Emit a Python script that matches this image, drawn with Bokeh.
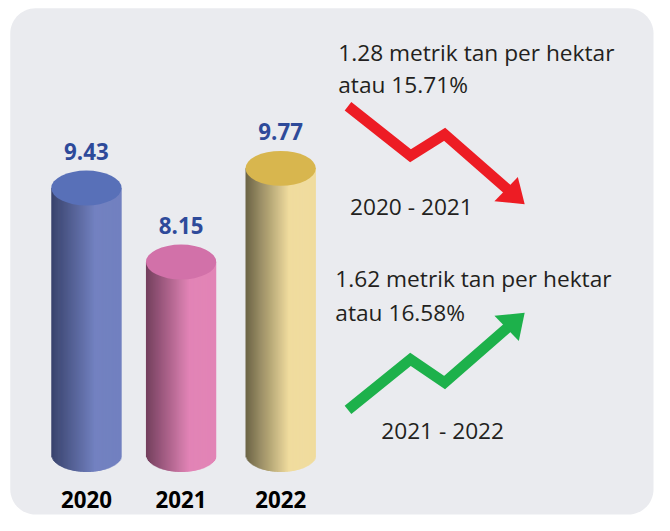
import numpy as np
from bokeh.plotting import figure
from bokeh.models import Range1d
from bokeh.core.properties import value
from bokeh.embed import file_html
from bokeh.resources import INLINE

# ---------------- data ----------------
years = ["2020", "2021", "2022"]
yields = [9.43, 8.15, 9.77]
value_labels = ["9.43", "8.15", "9.77"]

down_text = ["1.28 metrik tan  per hektar", "atau 15.71%"]
down_period = "2020 - 2021"
up_text = ["1.62 metrik tan per hektar", "atau 16.58%"]
up_period = "2021 - 2022"

# ---------------- styles / layout ----------------
W, H = 654, 515                      # figure size in screen px
REF_W, REF_H = 670, 531              # layout coordinate frame
SX = W / REF_W
SY = H / REF_H
Y_START, Y_END = 3.765, 12.674       # hidden, truncated value axis
BASE = 4.82                          # cylinders start here
K = H / (Y_END - Y_START)            # screen px per value unit

centers = [88, 185, 287]
bar_w = 72
cap_h = 36 * SY                      # ellipse height in screen px

body_dark = ["#38426C", "#733F5D", "#6C6446"]
body_light = ["#7281C0", "#E284B6", "#F0DC9E"]
top_col = ["#5870B8", "#D271A9", "#D8B64E"]

FONT = value("Open Sans")
PANEL = "#EAEBEF"
RED = "#ED1C24"
GREEN = "#1DB14B"
TXT = "#231F20"
LBL = "#2E4A9A"


def hex2rgb(h):
    h = h.lstrip("#")
    return np.array([int(h[i:i + 2], 16) for i in (0, 2, 4)], dtype=float)


def lerp(c1, c2, t):
    a, b = hex2rgb(c1), hex2rgb(c2)
    c = a + (b - a) * t
    return "#%02x%02x%02x" % tuple(int(round(x)) for x in c)


def fs(px):
    return "%.1fpx" % (px * SY)


p = figure(width=W, height=H, x_range=Range1d(0, REF_W),
           y_range=Range1d(Y_START, Y_END),
           output_backend="svg", toolbar_location=None,
           x_axis_location=None, y_axis_location=None, min_border=0)
p.extra_y_ranges = {"px": Range1d(start=REF_H, end=0)}
p.grid.visible = False
p.outline_line_color = None
p.background_fill_color = "white"
p.border_fill_color = "white"

# ---------------- panel (rounded rectangle) ----------------
def rounded_rect(x0, y0, x1, y1, r, n=16):
    xs, ys = [], []
    corners = [(x0 + r, y0 + r, 180, 270), (x1 - r, y0 + r, 270, 360),
               (x1 - r, y1 - r, 0, 90), (x0 + r, y1 - r, 90, 180)]
    for cx, cy, a0, a1 in corners:
        a = np.radians(np.linspace(a0, a1, n))
        xs += list(cx + r * np.cos(a))
        ys += list(cy + r * np.sin(a))
    return xs, ys

px_, py_ = rounded_rect(10, 8, 669, 530, 26)
p.patch(px_, py_, fill_color=PANEL, line_color=None, y_range_name="px")

# ---------------- cylinders ----------------
cap_v = (cap_h / 2) / K
n = 72
for i, v in enumerate(yields):
    xl = centers[i] - bar_w / 2
    step = bar_w / n
    lefts, rights, bottoms, cols = [], [], [], []
    for j in range(n):
        u = (j + 0.5) / n
        t = min(u / 0.62, 1.0)
        cols.append(lerp(body_dark[i], body_light[i], t))
        lefts.append(xl + j * step)
        rights.append(xl + (j + 1) * step + (step * 0.8 if j < n - 1 else 0))
        bottoms.append(BASE - cap_v * np.sqrt(max(0.0, 1 - (2 * u - 1) ** 2)))
    p.quad(left=lefts, right=rights, top=[v] * n, bottom=bottoms,
           fill_color=cols, line_color=None)
    p.ellipse(x=[centers[i]], y=[v], width=bar_w, height=cap_h,
              height_units="screen", fill_color=top_col[i], line_color=None)

p.text(x=centers, y=yields, text=value_labels, text_align="center",
       text_baseline="alphabetic", y_offset=-37, text_font=FONT,
       text_font_style="bold", text_font_size=fs(23), text_color=LBL)

p.text(x=centers, y=[514] * 3, text=years, text_align="center",
       text_baseline="alphabetic", text_font=FONT, text_font_style="bold",
       text_font_size=fs(23), text_color="#000000", y_range_name="px")

# ---------------- arrows ----------------
p.line([356, 420, 455, 522], [109, 160, 138, 197], line_width=11 * SY,
       line_color=RED, line_join="miter", y_range_name="px")
p.patch([530, 506, 537], [182, 207, 210], fill_color=RED, line_color=None,
        y_range_name="px")

p.line([356, 420, 455, 522], [422, 370, 394, 335], line_width=11 * SY,
       line_color=GREEN, line_join="miter", y_range_name="px")
p.patch([506, 537, 531], [325, 322, 351], fill_color=GREEN, line_color=None,
        y_range_name="px")

# ---------------- texts ----------------
p.text(x=[346, 346], y=[54, 87], text=down_text, text_align="left",
       text_baseline="alphabetic", text_font=FONT, text_font_size=fs(23.4),
       text_color=TXT, y_range_name="px")
p.text(x=[358], y=[212], text=[down_period], text_align="left",
       text_baseline="alphabetic", text_font=FONT, text_font_size=fs(23.4),
       text_color=TXT, y_range_name="px")
p.text(x=[343, 343], y=[287, 322], text=up_text, text_align="left",
       text_baseline="alphabetic", text_font=FONT, text_font_size=fs(23.4),
       text_color=TXT, y_range_name="px")
p.text(x=[390], y=[443], text=[up_period], text_align="left",
       text_baseline="alphabetic", text_font=FONT, text_font_size=fs(23.4),
       text_color=TXT, y_range_name="px")

open("out.html", "w").write(file_html(p, INLINE))
